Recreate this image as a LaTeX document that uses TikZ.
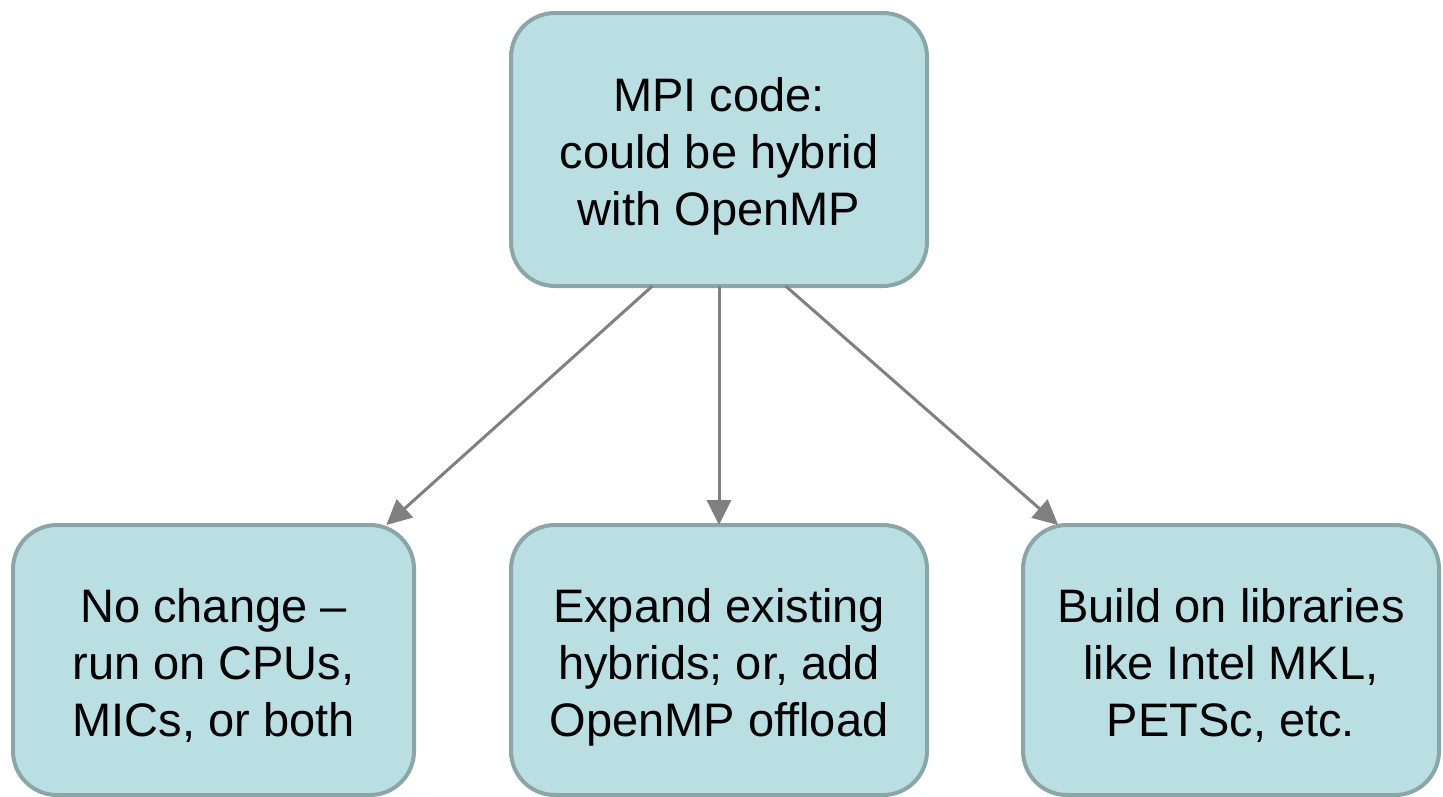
\documentclass[tikz,border=0pt]{standalone}
\usepackage{fontspec}
\setmainfont{Liberation Sans}
\usepackage{tikz}
\usetikzlibrary{positioning,arrows.meta}
\definecolor{boxfill}{RGB}{185,223,227}
\definecolor{boxline}{RGB}{138,166,168}
\definecolor{arrowgray}{RGB}{128,128,128}
\tikzset{
  offloadpic/.style={
    x=1pt,y=-1pt
    ,inner sep=0pt
    ,outer sep=0pt
  }
  ,choice/.style={
    rectangle
    ,rounded corners=44pt
    ,draw=boxline
    ,line width=4pt
    ,fill=boxfill
    ,minimum width=416pt
    ,minimum height=270pt
    ,align=center
    ,font={\fontsize{47}{57}\selectfont\color{black}}
    ,execute at begin node={\rule{0pt}{163pt}}
    ,execute at end node={\rule[-11pt]{0pt}{11pt}}
  }
  ,rootbox/.style={choice,minimum height=273pt}
  ,narrowbox/.style={choice,minimum width=401pt}
  ,flow/.style={
    draw=arrowgray
    ,line width=3pt
    ,-{Triangle[length=25pt,width=24pt]}
  }
}
\begin{document}
\begin{tikzpicture}[offloadpic]
    \useasboundingbox (0,0) rectangle (1443,796);
    % starting point
    \node[rootbox] (mpi) at (719,149.5) {MPI code:\\could be hybrid\\with OpenMP};

    % the three ways on
    \node[choice,below=239pt of mpi] (expand)
      {Expand existing\\hybrids; or, add\\OpenMP offload};
    \node[narrowbox,left=97pt of expand] (nochange)
      {No change --\\run on CPUs,\\MICs, or both};
    \node[choice,right=96pt of expand] (build)
      {Build on libraries\\like Intel MKL,\\PETSc, etc.};

    \draw[flow] (mpi.244) -- (nochange.38);
    \draw[flow] (mpi.south) -- (expand.north);
    \draw[flow] (mpi.296) -- (build.142);
\end{tikzpicture}
\end{document}
